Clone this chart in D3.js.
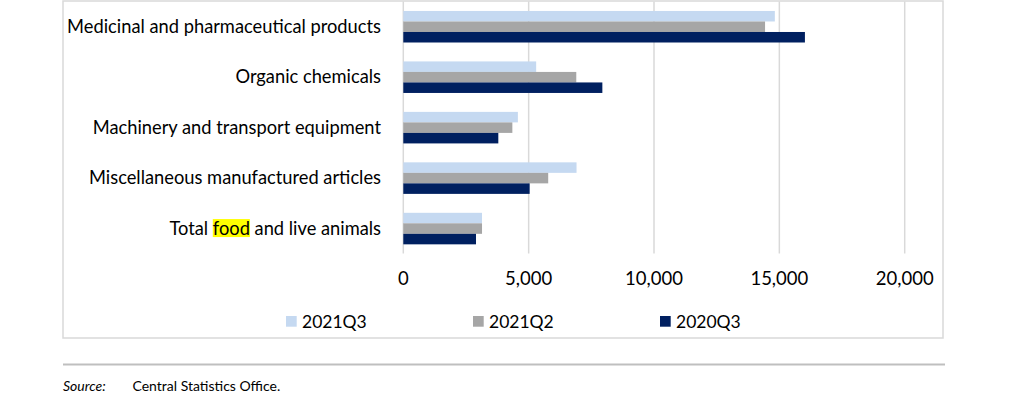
<!DOCTYPE html>
<html>
<head>
<meta charset="utf-8">
<script src="https://cdn.jsdelivr.net/npm/d3@7"></script>
<style>
  body { margin: 0; background: #fff; }
  text { font-family: Lato, "Liberation Sans", sans-serif; fill: #000; }
</style>
</head>
<body>
<div id="graphicContainer"></div>
<script>

// chart data
var categories = [
  "Medicinal and pharmaceutical products",
  "Organic chemicals",
  "Machinery and transport equipment",
  "Miscellaneous manufactured articles",
  "Total food and live animals"
]

var seriesNames = ["2021Q3", "2021Q2", "2020Q3"]

var values2021Q3 = [14820, 5300, 4570, 6910, 3140]
var values2021Q2 = [14430, 6900, 4350, 5780, 3140]
var values2020Q3 = [16020, 7940, 3790, 5040, 2900]

var xTicks = [0, 5000, 10000, 15000, 20000]

var colours = ["#c5d9f1", "#a6a6a6", "#002060"]

var highlightWord = "food"

var seriesValues = [values2021Q3, values2021Q2, values2020Q3]

var data = categories.map((c, i) => {
  var row = { category: c }
  seriesNames.forEach((s, j) => row[s] = seriesValues[j][i])
  return row
})

var width = 1029
var height = 399

var svg = d3.select("#graphicContainer").append("svg")
  .attr("width", width)
  .attr("height", height)

// outer chart frame
svg.append("rect")
  .attr("x", 63)
  .attr("y", 1)
  .attr("width", 880)
  .attr("height", 337)
  .attr("fill", "none")
  .attr("stroke", "#d9d9d9")
  .attr("stroke-width", 1.5)

var x = d3.scaleLinear()
  .domain([0, 20000])
  .range([403.3, 904.7])

var y0 = d3.scaleBand()
  .domain(categories)
  .range([1.5, 253.8])
  .paddingInner(0.375)
  .paddingOuter(0.1875)

var y1 = d3.scaleBand()
  .domain(seriesNames)
  .range([0, y0.bandwidth()])

var color = d3.scaleOrdinal()
  .domain(seriesNames)
  .range(colours)

// gridlines
svg.append("g")
  .selectAll("line")
  .data(xTicks)
  .enter()
  .append("line")
  .attr("x1", d => x(d))
  .attr("x2", d => x(d))
  .attr("y1", 1.5)
  .attr("y2", 253.5)
  .attr("stroke", "#d9d9d9")
  .attr("stroke-width", 1.5)

// tick labels
svg.append("g")
  .selectAll("text")
  .data(xTicks)
  .enter()
  .append("text")
  .attr("x", d => x(d))
  .attr("y", 285)
  .attr("text-anchor", "middle")
  .style("font-size", "18.5px")
  .text(d => d3.format(",")(d))

var bars = svg.append("g")
  .selectAll("g")
  .data(data)
  .enter()
  .append("g")
  .attr("transform", d => `translate(0,${y0(d.category)})`)

bars.selectAll("rect")
  .data(d => seriesNames.map(key => ({ key, value: d[key] })))
  .enter()
  .append("rect")
  .attr("x", x(0))
  .attr("y", d => y1(d.key))
  .attr("height", y1.bandwidth())
  .attr("width", d => x(d.value) - x(0))
  .attr("fill", d => color(d.key))

// category labels
var labels = svg.append("g")
  .selectAll("text")
  .data(categories)
  .enter()
  .append("text")
  .attr("x", 381)
  .attr("y", d => y0(d) + y0.bandwidth() / 2 + 6)
  .attr("text-anchor", "end")
  .style("font-size", "18.3px")
  .text(d => d)

// yellow highlight behind the word "food"
labels.each(function (d) {
  var idx = d.indexOf(highlightWord)
  if (idx < 0) return
  var start = this.getStartPositionOfChar(idx).x
  var end = this.getEndPositionOfChar(idx + highlightWord.length - 1).x
  var yMid = y0(d) + y0.bandwidth() / 2
  d3.select(this.parentNode).insert("rect", function () { return this.firstChild })
    .attr("x", start)
    .attr("y", yMid - 9.5)
    .attr("width", end - start)
    .attr("height", 18)
    .attr("fill", "#ffff00")
})

// legend
var legendX = [286, 473, 660]

var legend = svg.append("g")
  .selectAll("g")
  .data(seriesNames)
  .enter()
  .append("g")
  .attr("transform", (d, i) => `translate(${legendX[i]},316)`)

legend.append("rect")
  .attr("width", 10.7)
  .attr("height", 10.7)
  .attr("fill", d => color(d))

legend.append("text")
  .attr("x", 16)
  .attr("y", 11.5)
  .style("font-size", "17.5px")
  .text(d => d)

// separator and source note
svg.append("line")
  .attr("x1", 63)
  .attr("x2", 945)
  .attr("y1", 364.5)
  .attr("y2", 364.5)
  .attr("stroke", "#bfbfbf")
  .attr("stroke-width", 2)

svg.append("text")
  .attr("x", 63)
  .attr("y", 391)
  .style("font-size", "14px")
  .style("font-style", "italic")
  .text("Source:")

svg.append("text")
  .attr("x", 132.5)
  .attr("y", 391)
  .style("font-size", "14px")
  .text("Central Statistics Office.")

</script>
</body>
</html>
